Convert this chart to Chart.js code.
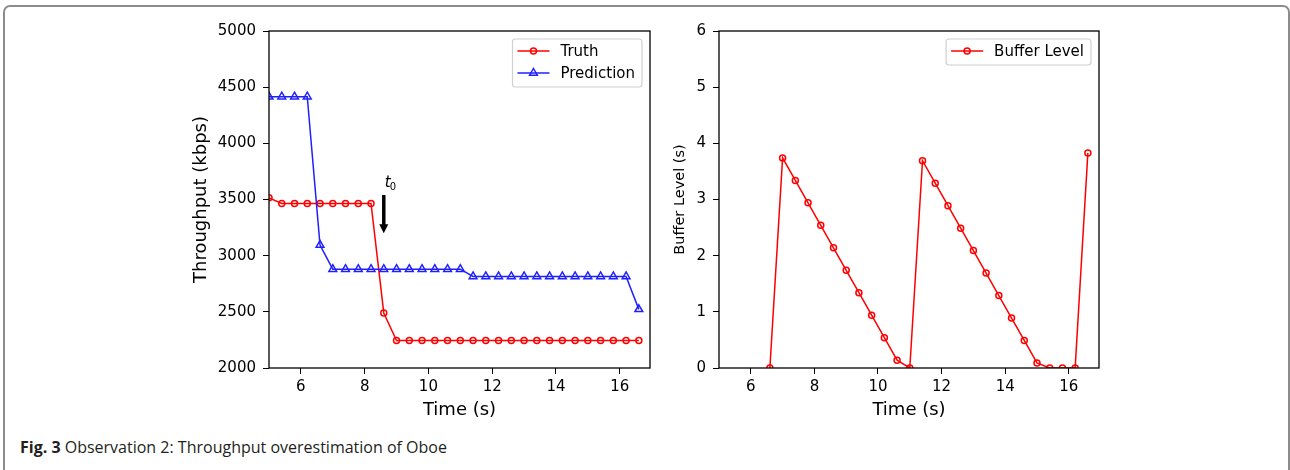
<!DOCTYPE html>
<html>
<head>
<meta charset="utf-8">
<script src="https://cdn.jsdelivr.net/npm/chart.js@4.4.1/dist/chart.umd.min.js"></script>
<style>
  body { margin: 0; background: #fff; width: 1290px; height: 470px; overflow: hidden; position: relative; }
  #frame { position: absolute; left: 3px; top: 5px; width: 1283px; height: 520px; border: 2px solid #8c8c8c; border-radius: 7px; }
  #left { position: absolute; left: 191px; top: 15px; }
  #right { position: absolute; left: 672px; top: 15px; }
  #caption { position: absolute; left: 20px; top: 436px; font-family: "Open Sans"; font-size: 16px; color: #231f20; white-space: nowrap; }
  #caption b { font-weight: 700; }
</style>
</head>
<body>
<div id="frame"></div>
<canvas id="left" width="469" height="406"></canvas>
<canvas id="right" width="437" height="406"></canvas>
<div id="caption"><b>Fig. 3</b> Observation 2: Throughput overestimation of Oboe</div>
<script>
// time stamps (s)
const timeAll = [5.0, 5.4, 5.8, 6.2, 6.6, 7.0, 7.4, 7.8, 8.2, 8.6, 9.0, 9.4, 9.8, 10.2, 10.6,
                 11.0, 11.4, 11.8, 12.2, 12.6, 13.0, 13.4, 13.8, 14.2, 14.6, 15.0, 15.4, 15.8, 16.2, 16.6];
const truthKbps = [3515, 3465, 3465, 3465, 3465, 3465, 3465, 3465, 3465, 2490, 2245, 2245, 2245, 2245, 2245,
                   2245, 2245, 2245, 2245, 2245, 2245, 2245, 2245, 2245, 2245, 2245, 2245, 2245, 2245, 2245];
const predKbps = [4415, 4415, 4415, 4415, 3095, 2880, 2880, 2880, 2880, 2880, 2880, 2880, 2880, 2880, 2880,
                  2880, 2815, 2815, 2815, 2815, 2815, 2815, 2815, 2815, 2815, 2815, 2815, 2815, 2815, 2522];

const bufferTime = [6.6, 7.0, 7.4, 7.8, 8.2, 8.6, 9.0, 9.4, 9.8, 10.2, 10.6, 11.0, 11.4,
                    11.8, 12.2, 12.6, 13.0, 13.4, 13.8, 14.2, 14.6, 15.0, 15.4, 15.8, 16.2, 16.6];
const bufferSec = [0, 3.74, 3.34, 2.94, 2.54, 2.14, 1.74, 1.34, 0.94, 0.54, 0.14, 0, 3.69,
                   3.29, 2.89, 2.49, 2.09, 1.69, 1.29, 0.89, 0.49, 0.09, 0, 0, 0, 3.83];

const timeTicks = [6, 8, 10, 12, 14, 16];
const kbpsTicks = [2000, 2500, 3000, 3500, 4000, 4500, 5000];
const bufferTicks = [0, 1, 2, 3, 4, 5, 6];

// t0 annotation
const t0Time = 8.6, t0Top = 3540, t0Tip = 3200;

const pts = (xs, ys) => xs.map((x, i) => ({ x: x, y: ys[i] }));
const font = 'DejaVu Sans';

function axis(ticksArr, min, max, title, titleSize, fit, isX) {
  return {
    type: 'linear', min: min, max: max,
    afterBuildTicks: s => { s.ticks = ticksArr.map(v => ({ value: v })); },
    afterFit: s => { if (isX) s.height = fit; else s.width = fit; },
    grid: { drawOnChartArea: false, drawTicks: true, tickLength: 6, color: '#000', lineWidth: 1 },
    border: { display: false },
    ticks: {
      color: '#000', font: { family: font, size: 15 }, padding: isX ? 4 : 7,
      maxRotation: 0, autoSkip: false, callback: v => String(v)
    },
    title: { display: true, text: title, color: '#000', font: { family: font, size: titleSize }, padding: 0 }
  };
}

const framePlugin = {
  id: 'frame',
  afterDraw(chart) {
    const a = chart.chartArea, ctx = chart.ctx;
    ctx.save();
    ctx.strokeStyle = '#000';
    ctx.lineWidth = 1.3;
    ctx.strokeRect(a.left, a.top, a.right - a.left, a.bottom - a.top);
    ctx.restore();
  }
};

function marker(ctx, style, x, y, r) {
  ctx.beginPath();
  if (style === 'triangle') {
    ctx.moveTo(x, y - r);
    ctx.lineTo(x + r * 0.866, y + r * 0.5);
    ctx.lineTo(x - r * 0.866, y + r * 0.5);
    ctx.closePath();
  } else {
    ctx.arc(x, y, r, 0, Math.PI * 2);
  }
  ctx.stroke();
}

const legendPlugin = {
  id: 'boxLegend',
  afterDraw(chart, args, opts) {
    const ctx = chart.ctx, a = chart.chartArea;
    const items = opts.order.map(i => chart.data.datasets[i]);
    ctx.save();
    ctx.font = '15px "' + font + '"';
    const tw = Math.max(...items.map(d => ctx.measureText(d.label).width));
    const w = 5 + 32 + 11 + tw + 7;
    const h = 26 + 22 * (items.length - 1);
    const x0 = a.right - 8 - w, y0 = a.top + 8;
    ctx.fillStyle = 'rgba(255,255,255,0.8)';
    ctx.strokeStyle = '#d0d0d0';
    ctx.lineWidth = 1.2;
    ctx.beginPath();
    ctx.roundRect(x0, y0, w, h, 3);
    ctx.fill();
    ctx.stroke();
    items.forEach((d, k) => {
      const y = y0 + 12 + 22 * k;
      ctx.strokeStyle = d.borderColor;
      ctx.lineWidth = 1.5;
      ctx.beginPath();
      ctx.moveTo(x0 + 5, y);
      ctx.lineTo(x0 + 37, y);
      ctx.stroke();
      marker(ctx, d.pointStyle, x0 + 21, y, d.pointRadius);
      ctx.fillStyle = '#000';
      ctx.textBaseline = 'middle';
      ctx.fillText(d.label, x0 + 48, y + 1);
    });
    ctx.restore();
  }
};

const arrowPlugin = {
  id: 't0arrow',
  afterDatasetsDraw(chart) {
    const ctx = chart.ctx, xs = chart.scales.x, ys = chart.scales.y;
    const x = xs.getPixelForValue(t0Time);
    const y1 = ys.getPixelForValue(t0Top), y2 = ys.getPixelForValue(t0Tip);
    ctx.save();
    ctx.strokeStyle = '#000';
    ctx.fillStyle = '#000';
    ctx.lineWidth = 3.5;
    ctx.beginPath();
    ctx.moveTo(x, y1);
    ctx.lineTo(x, y2 - 8);
    ctx.stroke();
    ctx.beginPath();
    ctx.moveTo(x - 4.5, y2 - 9);
    ctx.lineTo(x + 4.5, y2 - 9);
    ctx.lineTo(x, y2);
    ctx.closePath();
    ctx.fill();
    ctx.font = 'italic 15px "' + font + '"';
    ctx.textBaseline = 'alphabetic';
    ctx.fillText('t', x + 1, y1 - 8);
    ctx.font = '10px "' + font + '"';
    ctx.fillText('0', x + 6, y1 - 5);
    ctx.restore();
  }
};

new Chart(document.getElementById('left'), {
  type: 'line',
  data: {
    datasets: [
      {
        label: 'Truth', data: pts(timeAll, truthKbps), order: 1,
        borderColor: '#ff0000', borderWidth: 1.5, backgroundColor: 'rgba(0,0,0,0)',
        pointStyle: 'circle', pointRadius: 3, pointBorderWidth: 1.5,
        pointBackgroundColor: 'rgba(0,0,0,0)', tension: 0, clip: 0
      },
      {
        label: 'Prediction', data: pts(timeAll, predKbps), order: 0,
        borderColor: '#2020ff', borderWidth: 1.5, backgroundColor: 'rgba(0,0,0,0)',
        pointStyle: 'triangle', pointRadius: 4.5, pointBorderWidth: 1.5,
        pointBackgroundColor: 'rgba(0,0,0,0)', tension: 0, clip: 0
      }
    ]
  },
  options: {
    responsive: false, animation: false, events: [],
    layout: { padding: { top: 15, right: 10, left: 0, bottom: 0 } },
    scales: {
      x: axis(timeTicks, 5, 16.95, 'Time (s)', 18, 53, true),
      y: axis(kbpsTicks, 2000, 5000, 'Throughput (kbps)', 18, 78, false)
    },
    plugins: {
      legend: { display: false }, tooltip: { enabled: false },
      boxLegend: { order: [0, 1] }
    }
  },
  plugins: [framePlugin, legendPlugin, arrowPlugin]
});

new Chart(document.getElementById('right'), {
  type: 'line',
  data: {
    datasets: [
      {
        label: 'Buffer Level', data: pts(bufferTime, bufferSec),
        borderColor: '#ff0000', borderWidth: 1.5, backgroundColor: 'rgba(0,0,0,0)',
        pointStyle: 'circle', pointRadius: 3, pointBorderWidth: 1.5,
        pointBackgroundColor: 'rgba(0,0,0,0)', tension: 0, clip: 0
      }
    ]
  },
  options: {
    responsive: false, animation: false, events: [],
    layout: { padding: { top: 15, right: 10, left: 0, bottom: 0 } },
    scales: {
      x: axis(timeTicks, 5, 16.95, 'Time (s)', 18, 53, true),
      y: axis(bufferTicks, 0, 6, 'Buffer Level (s)', 14.5, 47, false)
    },
    plugins: {
      legend: { display: false }, tooltip: { enabled: false },
      boxLegend: { order: [0] }
    }
  },
  plugins: [framePlugin, legendPlugin]
});
</script>
</body>
</html>
